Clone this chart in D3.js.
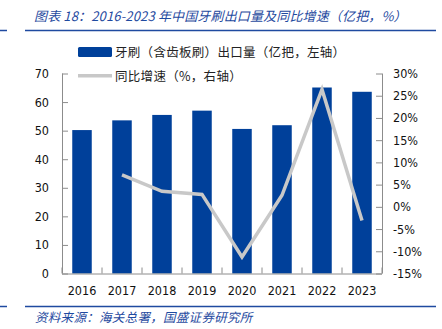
<!DOCTYPE html>
<html><head><meta charset="utf-8">
<script src="https://cdn.jsdelivr.net/npm/d3@7"></script>
<style>
body{margin:0;background:#fff;}
svg{display:block;}
</style></head>
<body><svg id="c" width="442" height="329"></svg>
<script>
const years = ["2016","2017","2018","2019","2020","2021","2022","2023"];
const exportVol = [50.2, 53.6, 55.5, 57.0, 50.6, 51.9, 65.1, 63.6];
const yoyGrowth = [null, 7.2, 3.5, 2.8, -11.3, 2.6, 26.4, -3.1];
const leftTicks = [0,10,20,30,40,50,60,70];
const rightTicks = [-15,-10,-5,0,5,10,15,20,25,30];
const titleText = "图表 18：2016-2023 年中国牙刷出口量及同比增速（亿把，%）";
const sourceText = "资料来源：海关总署，国盛证券研究所";
const legendBar = "牙刷（含齿板刷）出口量（亿把，左轴）";
const legendLine = "同比增速（%，右轴）";

const svg = d3.select("#c");
const blue = "#00409a", gray = "#c8c8c8", axisCol = "#8c8c8c", hdr = "#1f4aa0";
const numFont = "'DejaVu Sans Condensed','DejaVu Sans',sans-serif";
const cjkFont = "'Noto Sans CJK SC',sans-serif";

const L = 62, R = 382, T = 73.5, B = 273.5;
const x = d3.scaleBand().domain(years).range([L, R]);
const yL = d3.scaleLinear().domain([0,70]).range([B, T]);
const yR = d3.scaleLinear().domain([-15,30]).range([B, T]);

// header & footer rules
[[30.5],[306.5]].forEach(([yy])=>{
  svg.append("line").attr("x1",0).attr("x2",7).attr("y1",yy).attr("y2",yy).attr("stroke",hdr).attr("stroke-width",1.5);
  svg.append("line").attr("x1",25).attr("x2",436).attr("y1",yy).attr("y2",yy).attr("stroke",hdr).attr("stroke-width",1.5);
});
svg.append("text").attr("x",34).attr("y",21).text(titleText)
  .attr("font-family",cjkFont).attr("font-size",13).attr("font-style","italic").attr("fill",hdr)
  .attr("letter-spacing",0.15);
svg.append("text").attr("x",35).attr("y",322).text(sourceText)
  .attr("font-family",cjkFont).attr("font-size",12.5).attr("font-style","italic").attr("fill",hdr)
  .attr("letter-spacing",0.3);

// bars
const bw = 19.5;
svg.append("g").selectAll("rect").data(years).join("rect")
  .attr("x", d=>x(d)+x.bandwidth()/2-bw/2)
  .attr("width", bw)
  .attr("y", (d,i)=>yL(exportVol[i]))
  .attr("height", (d,i)=>yL(0)-yL(exportVol[i]))
  .attr("fill", blue);

// line
const pts = years.map((d,i)=>[d, yoyGrowth[i]]).filter(p=>p[1]!==null);
svg.append("path").datum(pts)
  .attr("d", d3.line().x(p=>x(p[0])+x.bandwidth()/2).y(p=>yR(p[1])))
  .attr("fill","none").attr("stroke",gray).attr("stroke-width",3.5).attr("stroke-linejoin","miter");

// axes
const axL = d3.axisLeft(yL).tickValues(leftTicks).tickSize(-6).tickPadding(13).tickFormat(d3.format("d"));
const axR = d3.axisRight(yR).tickValues(rightTicks).tickSize(-6).tickPadding(11).tickFormat(d=>d+"%");
const gL = svg.append("g").attr("transform",`translate(${L},0)`).call(axL);
const gR = svg.append("g").attr("transform",`translate(${R},0)`).call(axR);
const gX = svg.append("g").attr("transform",`translate(0,${B})`)
  .call(d3.axisBottom(x).tickSize(0).tickPadding(13));
// category boundary ticks pointing up
svg.append("g").selectAll("line").data(years.concat(["end"])).join("line")
  .attr("x1",(d,i)=>L+i*x.bandwidth()).attr("x2",(d,i)=>L+i*x.bandwidth())
  .attr("y1",B).attr("y2",B-6).attr("stroke",axisCol);

[gL,gR,gX].forEach(g=>{
  g.select(".domain").attr("stroke",axisCol);
  g.selectAll(".tick line").attr("stroke",axisCol);
  g.selectAll("text").attr("font-family",numFont).attr("font-size",12.5).attr("fill","#111");
});
gX.select(".domain").attr("d",`M${L},0.5H${R}`);
gL.select(".domain").attr("d",`M0.5,${T}V${B}`);
gR.select(".domain").attr("d",`M0.5,${T}V${B}`);

// legend
svg.append("rect").attr("x",78).attr("y",47).attr("width",34).attr("height",10).attr("rx",1.5).attr("fill",blue);
svg.append("text").attr("x",115).attr("y",56.5).text(legendBar)
  .attr("font-family",cjkFont).attr("font-size",12.5).attr("fill","#222").attr("letter-spacing",0.3);
svg.append("line").attr("x1",78).attr("x2",112).attr("y1",75.7).attr("y2",75.7).attr("stroke",gray).attr("stroke-width",3.5);
svg.append("text").attr("x",115).attr("y",80.5).text(legendLine)
  .attr("font-family",cjkFont).attr("font-size",12.5).attr("fill","#222").attr("letter-spacing",0.3);
</script></body></html>
